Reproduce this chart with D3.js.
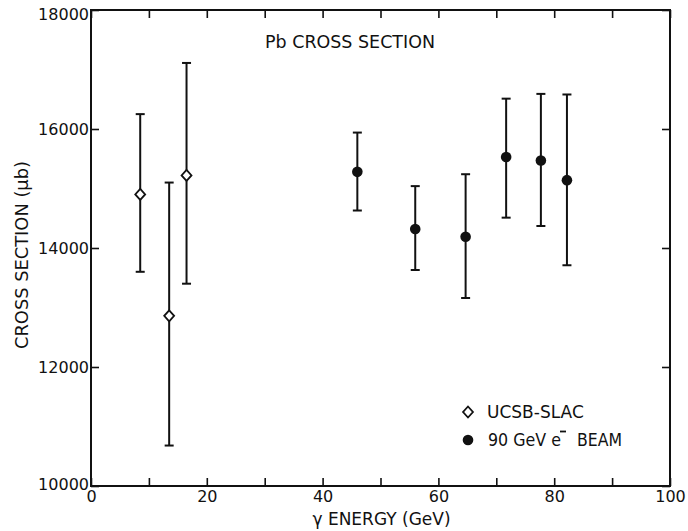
<!DOCTYPE html>
<html>
<head>
<meta charset="utf-8">
<script src="https://cdn.jsdelivr.net/npm/d3@7"></script>
<style>
  html, body { margin: 0; padding: 0; background: #fff; }
  text { font-family: "DejaVu Sans", sans-serif; fill: #111; }
</style>
</head>
<body>
<svg id="chart" width="688" height="531"></svg>
<script>
// ---- data ----
const ucsbEnergy = [8.5, 13.5, 16.5];
const ucsbXS     = [14900, 12860, 15220];
const ucsbHigh   = [16250, 15100, 17110];
const ucsbLow    = [13600, 10680, 13400];

const beamEnergy = [46, 56, 64.7, 71.7, 77.7, 82.2];
const beamXS     = [15280, 14320, 14190, 15530, 15470, 15140];
const beamHigh   = [15940, 15040, 15240, 16510, 16590, 16580];
const beamLow    = [14630, 13630, 13160, 14510, 14370, 13710];

const xTicks = [0, 10, 20, 30, 40, 50, 60, 70, 80, 90, 100];
const xTickLabels = ["0", "", "20", "", "40", "", "60", "", "80", "", "100"];
const yTicks = [10000, 12000, 14000, 16000, 18000];
const yTickLabels = ["10000", "12000", "14000", "16000", "18000"];

const legendLabels = ["UCSB-SLAC", "90 GeV e", "BEAM"];

// ---- layout ----
const svg = d3.select("#chart");
const margin = { left: 91, top: 10, right: 18, bottom: 45 };
const W = 688 - margin.left - margin.right;
const H = 531 - margin.top - margin.bottom;
const g = svg.append("g").attr("transform", `translate(${margin.left},${margin.top})`);

const x = d3.scaleLinear().domain([0, 100]).range([0, W]);
const y = d3.scaleLinear().domain([10000, 18000]).range([H, 0]);

const tickLen = 8;
const fmtX = d => xTickLabels[xTicks.indexOf(d)];
const fmtY = d => yTickLabels[yTicks.indexOf(d)];

function styleAxis(sel) {
  sel.select(".domain").remove();
  sel.selectAll(".tick line").attr("stroke", "#111").attr("stroke-width", 1.6);
  sel.selectAll("text").style("font-size", "16px").attr("fill", "#111");
}

g.append("g").attr("transform", `translate(0,${H})`)
  .call(d3.axisBottom(x).tickValues(xTicks).tickFormat(fmtX).tickSize(-tickLen).tickPadding(5))
  .call(styleAxis);
g.append("g")
  .call(d3.axisTop(x).tickValues(xTicks).tickFormat("").tickSize(-tickLen))
  .call(styleAxis);
const yAx = g.append("g")
  .call(d3.axisLeft(y).tickValues(yTicks).tickFormat(fmtY).tickSize(-tickLen).tickPadding(2))
  .call(styleAxis);
yAx.selectAll(".tick text").attr("dy", d => d === 10000 ? "0.2em" : (d === 18000 ? "0.62em" : "0.32em"));
g.append("g").attr("transform", `translate(${W},0)`)
  .call(d3.axisRight(y).tickValues(yTicks).tickFormat("").tickSize(-tickLen))
  .call(styleAxis);

// frame
g.append("rect").attr("x", 0).attr("y", 0).attr("width", W).attr("height", H)
  .attr("fill", "none").attr("stroke", "#111").attr("stroke-width", 2);

// ---- error bars + markers ----
const capW = 4.5;
function diamondPath(cx, cy, r) {
  return `M${cx},${cy - r}L${cx + r * 0.9},${cy}L${cx},${cy + r}L${cx - r * 0.9},${cy}Z`;
}
function drawSeries(E, V, Hi, Lo, marker) {
  const data = E.map((e, i) => ({ e, v: V[i], hi: Hi[i], lo: Lo[i] }));
  const gs = g.append("g");
  gs.selectAll("line.bar").data(data).join("line")
    .attr("x1", d => x(d.e)).attr("x2", d => x(d.e))
    .attr("y1", d => y(d.hi)).attr("y2", d => y(d.lo))
    .attr("stroke", "#111").attr("stroke-width", 2);
  gs.selectAll("line.capHi").data(data).join("line")
    .attr("x1", d => x(d.e) - capW).attr("x2", d => x(d.e) + capW)
    .attr("y1", d => y(d.hi)).attr("y2", d => y(d.hi))
    .attr("stroke", "#111").attr("stroke-width", 2);
  gs.selectAll("line.capLo").data(data).join("line")
    .attr("x1", d => x(d.e) - capW).attr("x2", d => x(d.e) + capW)
    .attr("y1", d => y(d.lo)).attr("y2", d => y(d.lo))
    .attr("stroke", "#111").attr("stroke-width", 2);
  if (marker === "diamond") {
    gs.selectAll("path.m").data(data).join("path")
      .attr("d", d => diamondPath(x(d.e), y(d.v), 5.5))
      .attr("fill", "#fff").attr("stroke", "#111").attr("stroke-width", 1.8);
  } else {
    gs.selectAll("circle.m").data(data).join("circle")
      .attr("cx", d => x(d.e)).attr("cy", d => y(d.v)).attr("r", 5.3)
      .attr("fill", "#111");
  }
}
drawSeries(ucsbEnergy, ucsbXS, ucsbHigh, ucsbLow, "diamond");
drawSeries(beamEnergy, beamXS, beamHigh, beamLow, "circle");

// ---- title ----
svg.append("text").attr("x", 265).attr("y", 47.5)
  .attr("textLength", 170).attr("lengthAdjust", "spacingAndGlyphs")
  .style("font-size", "17px").text("Pb CROSS SECTION");

// ---- legend ----
const leg = svg.append("g");
leg.append("path").attr("d", diamondPath(468, 412, 5.5))
  .attr("fill", "#fff").attr("stroke", "#111").attr("stroke-width", 1.8);
leg.append("text").attr("x", 487).attr("y", 418).style("font-size", "17px").text(legendLabels[0]);
leg.append("circle").attr("cx", 468).attr("cy", 440).attr("r", 5.3).attr("fill", "#111");
leg.append("text").attr("x", 488).attr("y", 446)
  .attr("textLength", 73).attr("lengthAdjust", "spacingAndGlyphs")
  .style("font-size", "17px").text(legendLabels[1]);
leg.append("line").attr("x1", 560).attr("x2", 566).attr("y1", 431.5).attr("y2", 431.5)
  .attr("stroke", "#111").attr("stroke-width", 1.8);
leg.append("text").attr("x", 577).attr("y", 446)
  .attr("textLength", 45).attr("lengthAdjust", "spacingAndGlyphs")
  .style("font-size", "17px").text(legendLabels[2]);

// ---- axis titles ----
svg.append("text").attr("x", margin.left + W / 2 + 1).attr("y", 525)
  .attr("text-anchor", "middle").style("font-size", "17px")
  .text("\u03b3 ENERGY (GeV)");
svg.append("text")
  .attr("transform", `translate(28,${255}) rotate(-90)`)
  .attr("text-anchor", "middle").style("font-size", "17px")
  .attr("textLength", 188).attr("lengthAdjust", "spacingAndGlyphs")
  .text("CROSS SECTION (\u03bcb)");
</script>
</body>
</html>
